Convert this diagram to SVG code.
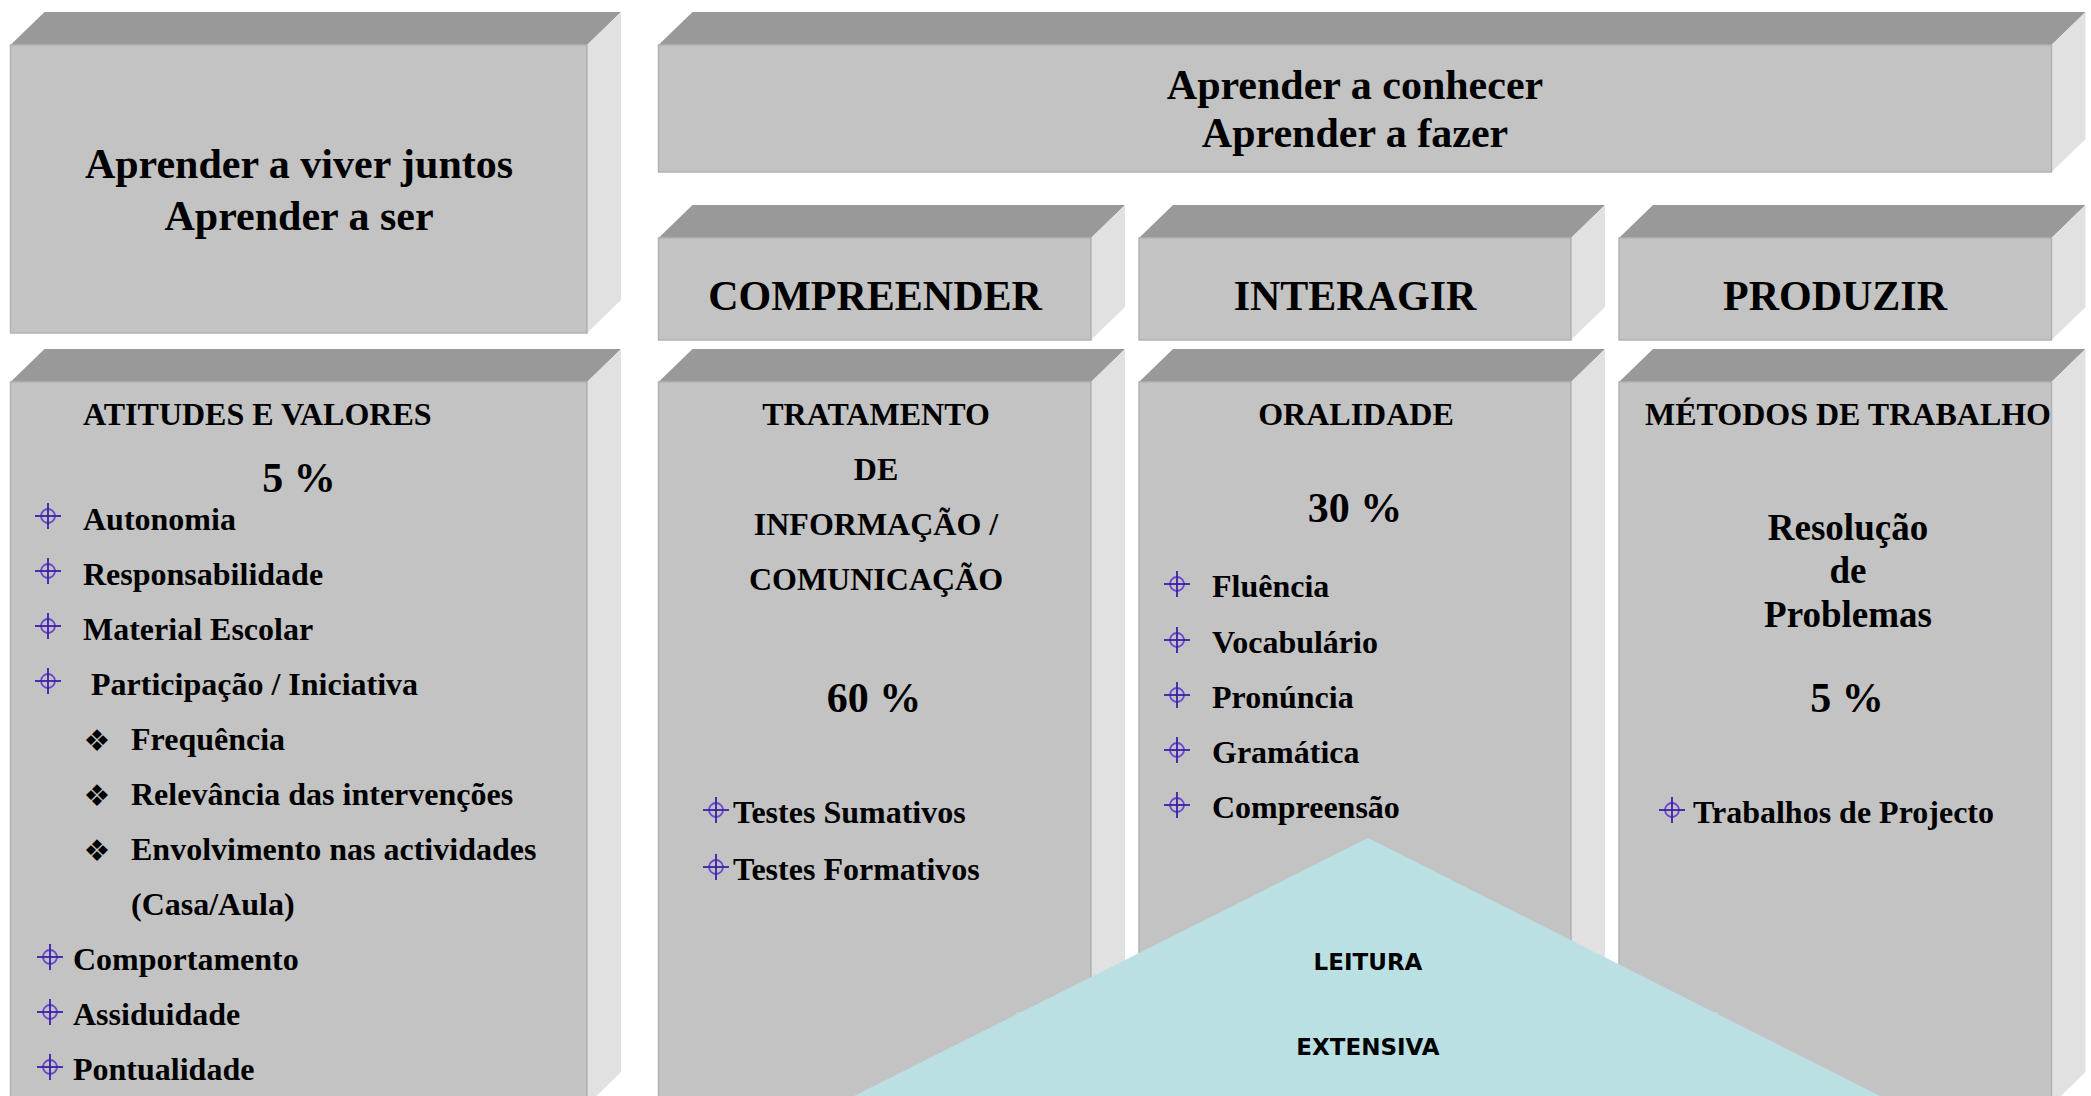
<svg xmlns="http://www.w3.org/2000/svg" xmlns:xlink="http://www.w3.org/1999/xlink" width="2091" height="1096" viewBox="0 0 2091 1096">
<defs>
<style>
.front{fill:#c3c3c3;stroke:#b2b2b2;stroke-width:1.5}
.top{fill:#999999}
.side{fill:#e1e1e1}
text{font-family:"Liberation Serif","Times New Roman",serif;font-weight:bold;fill:#000}
.t42{font-size:42px}
.t37{font-size:37px}
.t32{font-size:32px}
.mid{text-anchor:middle}
.dia{font-family:"DejaVu Sans",sans-serif;font-size:30px;font-weight:normal;text-anchor:middle}
.tri{font-family:"DejaVu Sans",Verdana,sans-serif;font-size:23px;font-weight:bold;text-anchor:middle}
</style>
<g id="bul">
<circle cx="0" cy="0" r="7" fill="none" stroke="#6a48d0" stroke-width="1.8"/>
<line x1="0" y1="-13" x2="0" y2="13" stroke="#3d1fa6" stroke-width="1.8"/>
<line x1="-13" y1="0" x2="13" y2="0" stroke="#3d1fa6" stroke-width="1.8"/>
</g>
</defs>
<rect width="2091" height="1096" fill="#ffffff"/>

<g id="box-viver">
<polygon class="top" points="10.5,45 44.5,12 621,12 587,45"/>
<polygon class="side" points="587,45 621,12 621,300 587,333"/>
<rect class="front" x="10.5" y="45" width="576.5" height="288"/>
<text class="t42 mid" x="299" y="178">Aprender a viver juntos</text>
<text class="t42 mid" x="299" y="230">Aprender a ser</text>
</g>

<g id="box-conhecer">
<polygon class="top" points="658.5,45 692.5,12 2085.5,12 2051.5,45"/>
<polygon class="side" points="2051.5,45 2085.5,12 2085.5,139 2051.5,172"/>
<rect class="front" x="658.5" y="45" width="1393" height="127"/>
<text class="t42 mid" x="1355" y="99">Aprender a conhecer</text>
<text class="t42 mid" x="1355" y="147">Aprender a fazer</text>
</g>

<g id="box-compreender">
<polygon class="top" points="658.5,238 692.5,205 1125,205 1091,238"/>
<polygon class="side" points="1091,238 1125,205 1125,307 1091,340"/>
<rect class="front" x="658.5" y="238" width="432.5" height="102"/>
<text class="t42 mid" x="875" y="310">COMPREENDER</text>
</g>

<g id="box-interagir">
<polygon class="top" points="1139,238 1173,205 1605,205 1571,238"/>
<polygon class="side" points="1571,238 1605,205 1605,307 1571,340"/>
<rect class="front" x="1139" y="238" width="432" height="102"/>
<text class="t42 mid" x="1355" y="310">INTERAGIR</text>
</g>

<g id="box-produzir">
<polygon class="top" points="1619,238 1653,205 2085.5,205 2051.5,238"/>
<polygon class="side" points="2051.5,238 2085.5,205 2085.5,307 2051.5,340"/>
<rect class="front" x="1619" y="238" width="432.5" height="102"/>
<text class="t42 mid" x="1835" y="310">PRODUZIR</text>
</g>

<g id="box-atitudes">
<polygon class="top" points="10.5,382 44.5,349 621,349 587,382"/>
<polygon class="side" points="587,382 621,349 621,1072 587,1105"/>
<rect class="front" x="10.5" y="382" width="576.5" height="723"/>
<text class="t32" x="83" y="425">ATITUDES E VALORES</text>
<text class="t42 mid" x="299" y="492">5 %</text>
<use xlink:href="#bul" x="48" y="516"/>
<text class="t32" x="83" y="530">Autonomia</text>
<use xlink:href="#bul" x="48" y="571"/>
<text class="t32" x="83" y="585">Responsabilidade</text>
<use xlink:href="#bul" x="48" y="626"/>
<text class="t32" x="83" y="640">Material Escolar</text>
<use xlink:href="#bul" x="48" y="681"/>
<text class="t32" x="91" y="695">Participação / Iniciativa</text>
<text class="dia" x="97" y="751">❖</text>
<text class="t32" x="131" y="750">Frequência</text>
<text class="dia" x="97" y="806">❖</text>
<text class="t32" x="131" y="805">Relevância das intervenções</text>
<text class="dia" x="97" y="861">❖</text>
<text class="t32" x="131" y="860">Envolvimento nas actividades</text>
<text class="t32" x="131" y="915">(Casa/Aula)</text>
<use xlink:href="#bul" x="50" y="957"/>
<text class="t32" x="73" y="970">Comportamento</text>
<use xlink:href="#bul" x="50" y="1012"/>
<text class="t32" x="73" y="1025">Assiduidade</text>
<use xlink:href="#bul" x="50" y="1067"/>
<text class="t32" x="73" y="1080">Pontualidade</text>
</g>

<g id="box-tratamento">
<polygon class="top" points="658.5,382 692.5,349 1125,349 1091,382"/>
<polygon class="side" points="1091,382 1125,349 1125,1072 1091,1105"/>
<rect class="front" x="658.5" y="382" width="432.5" height="723"/>
<text class="t32 mid" x="876" y="425">TRATAMENTO</text>
<text class="t32 mid" x="876" y="480">DE</text>
<text class="t32 mid" x="876" y="535">INFORMAÇÃO /</text>
<text class="t32 mid" x="876" y="590">COMUNICAÇÃO</text>
<text class="t42 mid" x="874" y="712">60 %</text>
<use xlink:href="#bul" x="716" y="810"/>
<text class="t32" x="733" y="823">Testes Sumativos</text>
<use xlink:href="#bul" x="716" y="867"/>
<text class="t32" x="733" y="880">Testes Formativos</text>
</g>

<g id="box-oralidade">
<polygon class="top" points="1139,382 1173,349 1605,349 1571,382"/>
<polygon class="side" points="1571,382 1605,349 1605,1072 1571,1105"/>
<rect class="front" x="1139" y="382" width="432" height="723"/>
<text class="t32 mid" x="1356" y="425">ORALIDADE</text>
<text class="t42 mid" x="1355" y="522">30 %</text>
<use xlink:href="#bul" x="1177" y="584"/>
<text class="t32" x="1212" y="597">Fluência</text>
<use xlink:href="#bul" x="1177" y="640"/>
<text class="t32" x="1212" y="653">Vocabulário</text>
<use xlink:href="#bul" x="1177" y="695"/>
<text class="t32" x="1212" y="708">Pronúncia</text>
<use xlink:href="#bul" x="1177" y="750"/>
<text class="t32" x="1212" y="763">Gramática</text>
<use xlink:href="#bul" x="1177" y="805"/>
<text class="t32" x="1212" y="818">Compreensão</text>
</g>

<g id="box-metodos">
<polygon class="top" points="1619,382 1653,349 2085.5,349 2051.5,382"/>
<polygon class="side" points="2051.5,382 2085.5,349 2085.5,1072 2051.5,1105"/>
<rect class="front" x="1619" y="382" width="432.5" height="723"/>
<text class="t32 mid" x="1848" y="425">MÉTODOS DE TRABALHO</text>
<text class="t37 mid" x="1848" y="540">Resolução</text>
<text class="t37 mid" x="1848" y="583">de</text>
<text class="t37 mid" x="1848" y="627">Problemas</text>
<text class="t42 mid" x="1847" y="712">5 %</text>
<use xlink:href="#bul" x="1672" y="810"/>
<text class="t32" x="1693" y="823">Trabalhos de Projecto</text>
</g>

<g id="leitura-extensiva">
<polygon points="1368,838 1882,1097 852,1097" fill="#bae0e4"/>
<line x1="1016" y1="1013" x2="1718" y2="1013" stroke="#bee2e6" stroke-width="1"/>
<text class="tri" x="1368" y="970">LEITURA</text>
<text class="tri" x="1368" y="1055">EXTENSIVA</text>
</g>

<g id="connectors"/>
</svg>
